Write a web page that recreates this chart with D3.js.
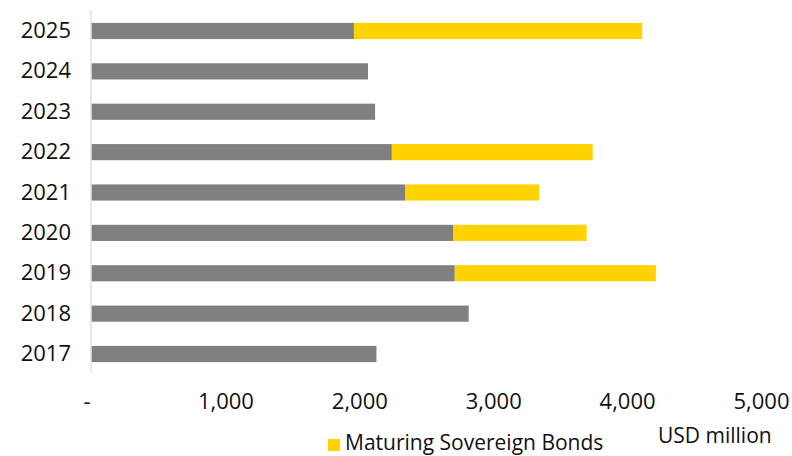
<!DOCTYPE html>
<html><head><meta charset="utf-8">
<script src="https://cdn.jsdelivr.net/npm/d3@7"></script>
<style>body{margin:0;background:#fff}svg{display:block}text{font-family:"Open Sans",sans-serif;fill:#111}</style>
</head><body><svg id="c" width="792" height="456"></svg>
<script>
const years = ["2025","2024","2023","2022","2021","2020","2019","2018","2017"];
const otherDebt = [1960,2065,2118,2243,2342,2700,2713,2817,2128];
const sovereignBonds = [2153,0,0,1500,1000,998,1502,0,0];
const xTicks = [0,1000,2000,3000,4000,5000];
const legendLabel = "Maturing Sovereign Bonds";
const unitLabel = "USD million";

const svg = d3.select("#c");
const x = d3.scaleLinear().domain([0,5000]).range([91.5,761]);
const y = d3.scaleBand().domain(years).range([10.8,374.2]).paddingInner(0.6).paddingOuter(0.3);

const data = years.map((yr,i)=>({year:yr, other:otherDebt[i], sov:sovereignBonds[i]}));
const stack = d3.stack().keys(["other","sov"])(data);
const colors = {other:"#808080", sov:"#FFD200"};

svg.append("g").selectAll("g").data(stack).join("g")
  .attr("fill", d=>colors[d.key])
  .selectAll("rect").data(d=>d.filter(p=>p[1]>p[0])).join("rect")
  .attr("x", d=>x(d[0])).attr("width", d=>x(d[1])-x(d[0]))
  .attr("y", d=>y(d.data.year)).attr("height", y.bandwidth());

// vertical axis line
svg.append("line").attr("x1",91).attr("x2",91).attr("y1",10).attr("y2",373)
  .attr("stroke","#d9d9d9").attr("stroke-width",1.2);

// y labels
const yAxis = d3.axisLeft(y).tickSize(0).tickPadding(20);
const gy = svg.append("g").attr("transform","translate(91,0)").call(yAxis);
gy.select(".domain").remove();
gy.selectAll("text").attr("font-size",22).attr("fill","#111").attr("font-family","Open Sans");

// x labels
const xAxis = d3.axisBottom(x).tickValues(xTicks).tickSize(0).tickPadding(0)
  .tickFormat(d=> d===0 ? "-" : d3.format(",")(d));
const gx = svg.append("g").attr("transform","translate(0,393)").call(xAxis);
gx.select(".domain").remove();
gx.selectAll("text").attr("font-size",22).attr("fill","#111").attr("font-family","Open Sans");
gx.selectAll(".tick").filter(d=>d===0).select("text").attr("dx",-5);

// legend
svg.append("rect").attr("x",328).attr("y",439).attr("width",12).attr("height",12).attr("fill",colors.sov);
svg.append("text").attr("x",345).attr("y",450).attr("font-size",21).text(legendLabel);
svg.append("text").attr("x",658).attr("y",443).attr("font-size",21).text(unitLabel);
</script></body></html>
